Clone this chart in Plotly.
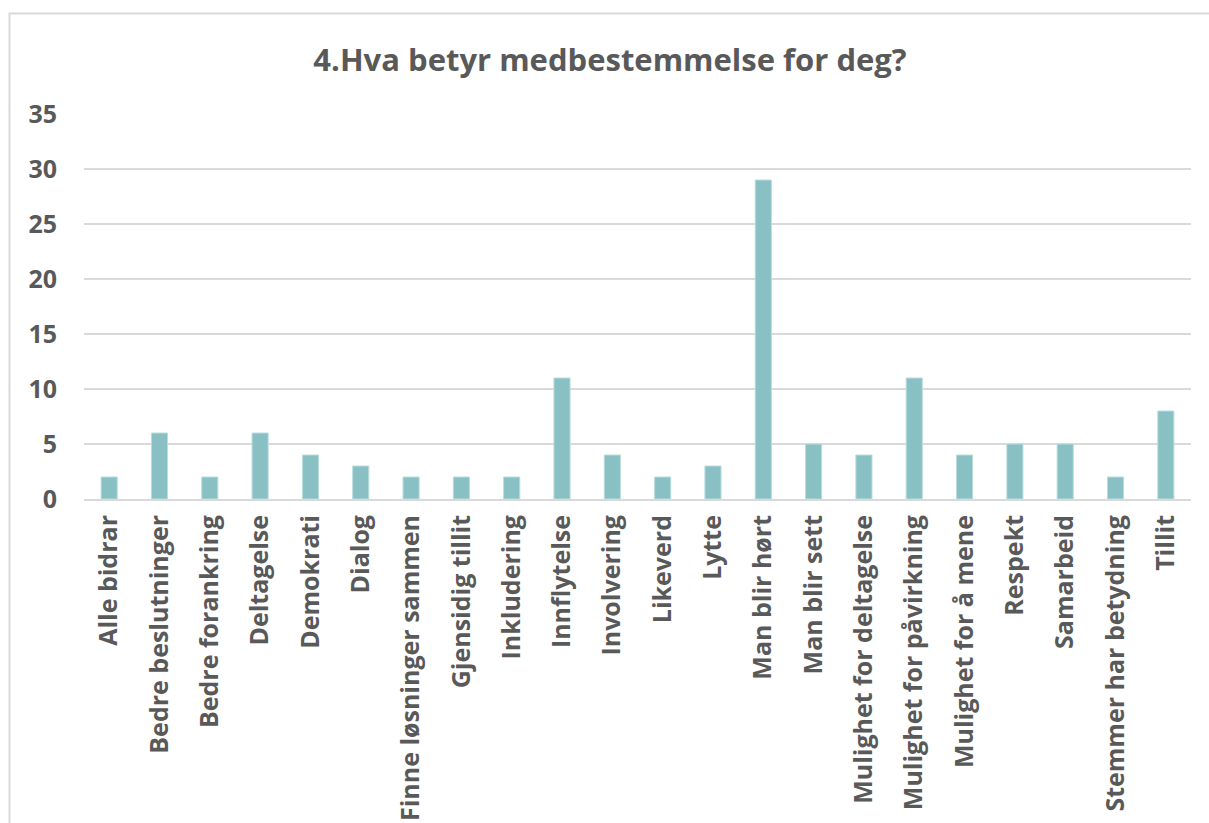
import plotly.graph_objects as go

categories = [
    "Alle bidrar", "Bedre beslutninger", "Bedre forankring", "Deltagelse",
    "Demokrati", "Dialog", "Finne løsninger sammen", "Gjensidig tillit",
    "Inkludering", "Innflytelse", "Involvering", "Likeverd", "Lytte",
    "Man blir hørt", "Man blir sett", "Mulighet for deltagelse",
    "Mulighet for påvirkning", "Mulighet for å mene", "Respekt",
    "Samarbeid", "Stemmer har betydning", "Tillit",
]
values = [2, 6, 2, 6, 4, 3, 2, 2, 2, 11, 4, 2, 3, 29, 5, 4, 11, 4, 5, 5, 2, 8]
y_ticks = [0, 5, 10, 15, 20, 25, 30, 35]

title_text = "4.Hva betyr medbestemmelse for deg?"

TEXT = "#595959"
GRID = "#D9D9D9"
BAR = "#88C0C3"
FONT = "Open Sans"

W, H = 1209, 823
L, R, T, B = 84, 18, 114, 324

fig = go.Figure(
    go.Bar(
        x=categories,
        y=values,
        marker=dict(color=BAR, line=dict(color="#B9DCDD", width=1)),
        width=0.32,
    )
)

pw = W - L - R
ph = H - T - B

fig.update_layout(
    width=W,
    height=H,
    margin=dict(l=L, r=R, t=T, b=B, autoexpand=False),
    paper_bgcolor="white",
    plot_bgcolor="white",
    showlegend=False,
    font=dict(family=FONT, color=TEXT),
    title=dict(
        text="<b>" + title_text + "</b>",
        x=610 / W,
        xref="container",
        xanchor="center",
        y=1 - 60 / H,
        yanchor="middle",
        font=dict(family=FONT, size=31, color=TEXT),
    ),
    xaxis=dict(
        tickangle=-90,
        tickfont=dict(family=FONT, size=25, color=TEXT),
        showgrid=False,
        showline=True,
        linecolor=GRID,
        linewidth=2,
        ticks="",
        ticklabelstandoff=4,
    ),
    yaxis=dict(
        range=[0, 35],
        tickvals=y_ticks,
        tickfont=dict(family=FONT, size=25, color=TEXT),
        showgrid=True,
        gridcolor=GRID,
        gridwidth=2,
        zeroline=False,
        showline=False,
        ticks="",
        ticklabelstandoff=26,
    ),
    shapes=[
        dict(
            type="rect",
            xref="paper",
            yref="paper",
            x0=(9.5 - L) / pw,
            x1=(W + 20 - L) / pw,
            y0=(H - B - (H + 20)) / ph,
            y1=(H - B - 13.5) / ph,
            line=dict(color=GRID, width=2),
            fillcolor="rgba(0,0,0,0)",
            layer="below",
        )
    ],
)

fig.update_xaxes(ticktext=["<b>" + c + "</b>" for c in categories], tickvals=categories)
fig.update_yaxes(ticktext=["<b>" + str(v) + "</b>" for v in y_ticks])

fig.write_html(
    "out.html",
    config={"displayModeBar": False},
    post_script="document.body.style.margin='0';document.body.style.overflow='hidden';",
)
